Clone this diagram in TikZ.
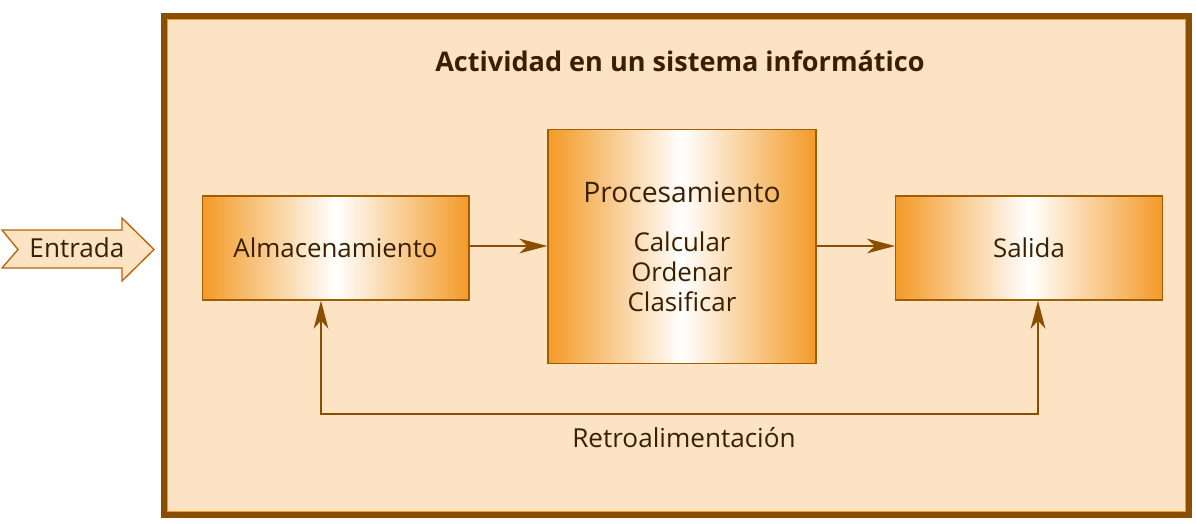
\documentclass[tikz,border=0pt]{standalone}
\usepackage{fontspec}
\setmainfont{Open Sans}
\usetikzlibrary{arrows.meta}

\definecolor{framefill}{HTML}{FBE3C4}
\definecolor{framebrown}{HTML}{8A4E00}
\definecolor{boxorange}{HTML}{F39A27}
\definecolor{inkbrown}{HTML}{3B2000}
\definecolor{entradaline}{HTML}{B8650A}

\tikzset{
    stagebox/.style={rectangle,draw=framebrown!80!boxorange,line width=1pt,
        left color=boxorange,right color=boxorange,middle color=white,
        text=inkbrown,font=\fontsize{19.4}{22.5}\selectfont,align=center},
    flow/.style={draw=framebrown,line width=1.3pt,-{Stealth[length=21pt,width=11pt,inset=6pt]}},
    plaintext/.style={text=inkbrown,font=\fontsize{19.6}{22.5}\selectfont}
}

\begin{document}
\begin{tikzpicture}[x=0.75pt,y=-0.75pt]
    \useasboundingbox (0,0) rectangle (1196,524);

    % marco del sistema
    \draw[draw=framebrown,line width=4.5pt,fill=framefill] (164,16) rectangle (1189,515);
    \draw[boxorange,line width=0.8pt] (167.5,19.5) rectangle (1185.5,511.5);

    \node[plaintext,font=\bfseries\fontsize{20.3}{24}\selectfont] (title) at (680,61) {Actividad en un sistema inform\'atico};

    % flecha de entrada
    \draw[draw=entradaline,line width=1pt,fill=framefill]
        (2,230) -- (122,230) -- (122,218) -- (154,249.5) -- (122,281) -- (122,268) -- (2,268) -- (18,249.5) -- cycle;
    \node[plaintext] (entrada) at (77,248) {Entrada};

    \node[stagebox,minimum width=200pt,minimum height=78pt] (alm) at (335.5,248) {Almacenamiento};
    \node[stagebox,minimum width=201pt,minimum height=175pt] (proc) at (682,246.5)
        {{\fontsize{21.2}{25}\selectfont Procesamiento}\\[14pt]Calcular\\Ordenar\\Clasificar};
    \node[stagebox,minimum width=200pt,minimum height=78pt] (sal) at (1029,248) {Salida};

    \draw[flow] (alm.east |- 0,246) -- (proc.west |- 0,246);
    \draw[flow] (proc.east |- 0,246) -- (sal.west |- 0,246);

    % retroalimentacion
    \coordinate (fbl) at (321,414);
    \coordinate (fbr) at (1038,414);
    \draw[flow,{Stealth[length=21pt,width=11pt,inset=6pt]}-{Stealth[length=21pt,width=11pt,inset=6pt]}]
        (alm.south -| fbl) -- (fbl) -- (fbr) -- (sal.south -| fbr);
    \node[plaintext] (retro) at (684,438) {Retroalimentaci\'on};
\end{tikzpicture}
\end{document}
